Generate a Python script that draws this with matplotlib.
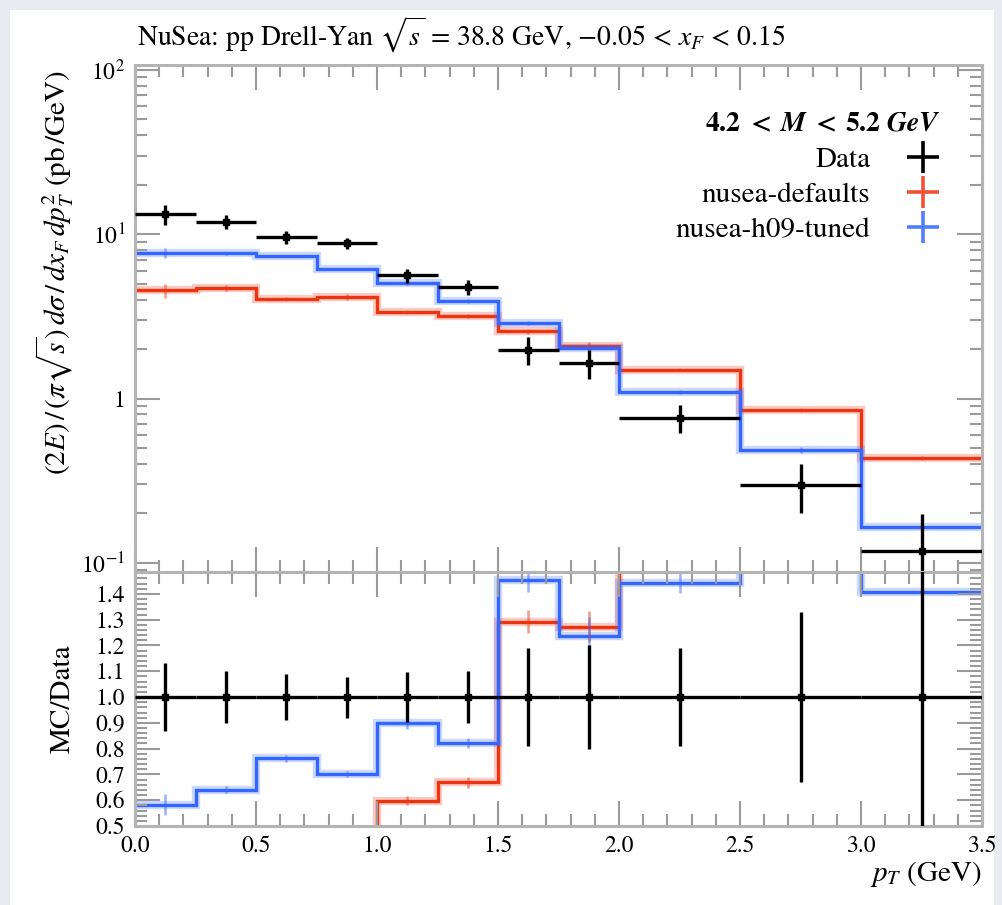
import numpy as np
import matplotlib
matplotlib.use('Agg')
import matplotlib.pyplot as plt
from matplotlib.lines import Line2D
from matplotlib.patches import Rectangle
from matplotlib.ticker import FixedLocator, MultipleLocator, FuncFormatter

plt.rcParams['font.family'] = ['STIXGeneral', 'DejaVu Serif']
plt.rcParams['mathtext.fontset'] = 'stix'

# pT bins (GeV)
edges = [0.0, 0.25, 0.5, 0.75, 1.0, 1.25, 1.5, 1.75, 2.0, 2.5, 3.0, 3.5]

# measured cross section and errors
data = [13.2, 11.9, 9.63, 8.78, 5.62, 4.77, 1.98, 1.65, 0.762, 0.299, 0.118]
data_err = [1.76, 1.19, 0.87, 0.70, 0.54, 0.48, 0.376, 0.33, 0.145, 0.099, 0.081]

# MC: nusea-defaults
defaults = [4.55, 4.73, 4.05, 4.15, 3.36, 3.19, 2.56, 2.10, 1.50, 0.853, 0.435]
defaults_err = [0.45, 0.19, 0.12, 0.17, 0.10, 0.10, 0.09, 0.10, 0.03, 0.02, 0.01]

# MC: nusea-h09-tuned
tuned = [7.69, 7.63, 7.34, 6.15, 5.05, 3.92, 2.88, 2.04, 1.10, 0.488, 0.166]
tuned_err = [0.55, 0.15, 0.12, 0.10, 0.12, 0.10, 0.09, 0.12, 0.03, 0.02, 0.01]

labels = ['Data', 'nusea-defaults', 'nusea-h09-tuned']
red = '#ee3311'
blue = '#3366ff'

edges = np.array(edges)
data = np.array(data)
data_err = np.array(data_err)
centers = 0.5 * (edges[1:] + edges[:-1])
halfw = 0.5 * (edges[1:] - edges[:-1])

fig = plt.figure(figsize=(10.02, 9.05), dpi=100)
fig.patch.set_facecolor('#e9ebf0')
fig.patches.append(Rectangle((10 / 1002, 0), 984 / 1002, 895 / 905, transform=fig.transFigure,
                             facecolor='white', edgecolor='none', zorder=-10))

ax = fig.add_axes([135 / 1002, 1 - 572 / 905, 847 / 1002, 507 / 905])
rax = fig.add_axes([135 / 1002, 1 - 826 / 905, 847 / 1002, 254 / 905], sharex=ax)


def draw_mc(a, vals, errs, col):
    # light halo + line + small error ticks, like the rivet style
    a.stairs(vals, edges, baseline=None, color=col, lw=6, alpha=0.25)
    a.stairs(vals, edges, baseline=None, color=col, lw=2.4)
    a.errorbar(centers, vals, yerr=errs, fmt='none', ecolor=col, elinewidth=1.8, alpha=0.5)


# main panel
draw_mc(ax, np.array(defaults), np.array(defaults_err), red)
draw_mc(ax, np.array(tuned), np.array(tuned_err), blue)
ax.errorbar(centers, data, xerr=halfw, yerr=data_err, fmt='s', color='black', ms=5,
            elinewidth=2.4, capsize=0, zorder=5)

ax.set_yscale('log')
ax.set_xlim(0, 3.5)
ax.set_ylim(0.088, 107)
ax.yaxis.set_major_locator(FixedLocator([0.1, 1, 10, 100]))
ax.yaxis.set_major_formatter(FuncFormatter(
    lambda v, p: {0.1: '$10^{-1}$', 1: '1', 10: '$10^{1}$', 100: '$10^{2}$'}.get(round(v, 3), '')))
minors = [m * 10.0 ** e for e in range(-2, 3) for m in range(2, 10)]
ax.yaxis.set_minor_locator(FixedLocator(minors))
ax.yaxis.set_minor_formatter(FuncFormatter(lambda v, p: ''))
ax.tick_params(axis='x', labelbottom=False)
ax.set_ylabel(r'$(2E)\,/\,(\pi\sqrt{s})\,d\sigma\,/\,dx_F\,dp_T^2$ (pb$\,/$GeV)', fontsize=21, loc='top')
ax.yaxis.set_label_coords(-0.07, 0.99)

handles = [Line2D([], [], color='black', marker='+', ms=23, mew=2.6, ls='none'),
           Line2D([], [], color=red, marker='+', ms=23, mew=2.6, ls='none', alpha=0.85),
           Line2D([], [], color=blue, marker='+', ms=23, mew=2.6, ls='none', alpha=0.85)]
leg = ax.legend(handles, labels, loc='upper right', bbox_to_anchor=(0.968, 0.935), frameon=False,
                markerfirst=False, fontsize=21, borderpad=0, labelspacing=0.3, handletextpad=1.2,
                handlelength=1.2,
                title=r'$\mathbf{4.2}\ \boldsymbol{<}\ \boldsymbol{M}\ \boldsymbol{<}\ \mathbf{5.2}\ \boldsymbol{GeV}$',
                title_fontsize=20, alignment='right')

# ratio panel
draw_mc(rax, np.array(defaults) / data, np.array(defaults_err) / data, red)
draw_mc(rax, np.array(tuned) / data, np.array(tuned_err) / data, blue)
rax.errorbar(centers, np.ones_like(data), xerr=halfw, yerr=data_err / data, fmt='s', color='black',
             ms=5, elinewidth=2.4, capsize=0, zorder=5)
rax.set_ylim(0.5, 1.485)
rax.yaxis.set_major_locator(MultipleLocator(0.1))
rax.yaxis.set_minor_locator(MultipleLocator(0.02))
rax.yaxis.set_major_formatter(FuncFormatter(lambda v, p: '%.1f' % v if v < 1.45 else ''))
rax.xaxis.set_major_locator(MultipleLocator(0.5))
rax.xaxis.set_minor_locator(MultipleLocator(0.1))
rax.xaxis.set_major_formatter(FuncFormatter(lambda v, p: '%.1f' % v))
rax.set_ylabel('MC/Data', fontsize=21)
rax.yaxis.set_label_coords(-0.07, 0.5)
rax.set_xlabel(r'$p_T$ (GeV)', fontsize=21, loc='right')
rax.xaxis.set_label_coords(1.0, -0.13)

for a in (ax, rax):
    for s in a.spines.values():
        s.set_color('#b4b4b4')
        s.set_linewidth(2.2)
    a.tick_params(which='both', direction='in', top=True, right=True, colors='#9a9a9a',
                  labelcolor='black', labelsize=17)
    a.tick_params(which='major', length=18, width=1.5, pad=7)
    a.tick_params(which='minor', length=8.5, width=1.5)

fig.text(137 / 1002, 1 - 46 / 905,
         r'NuSea: pp Drell-Yan $\sqrt{s}$ = 38.8 GeV, $-0.05$ < $x_F$ < 0.15', fontsize=20,
         ha='left', va='baseline')

fig.savefig('out.png', dpi=100, facecolor=fig.get_facecolor())
